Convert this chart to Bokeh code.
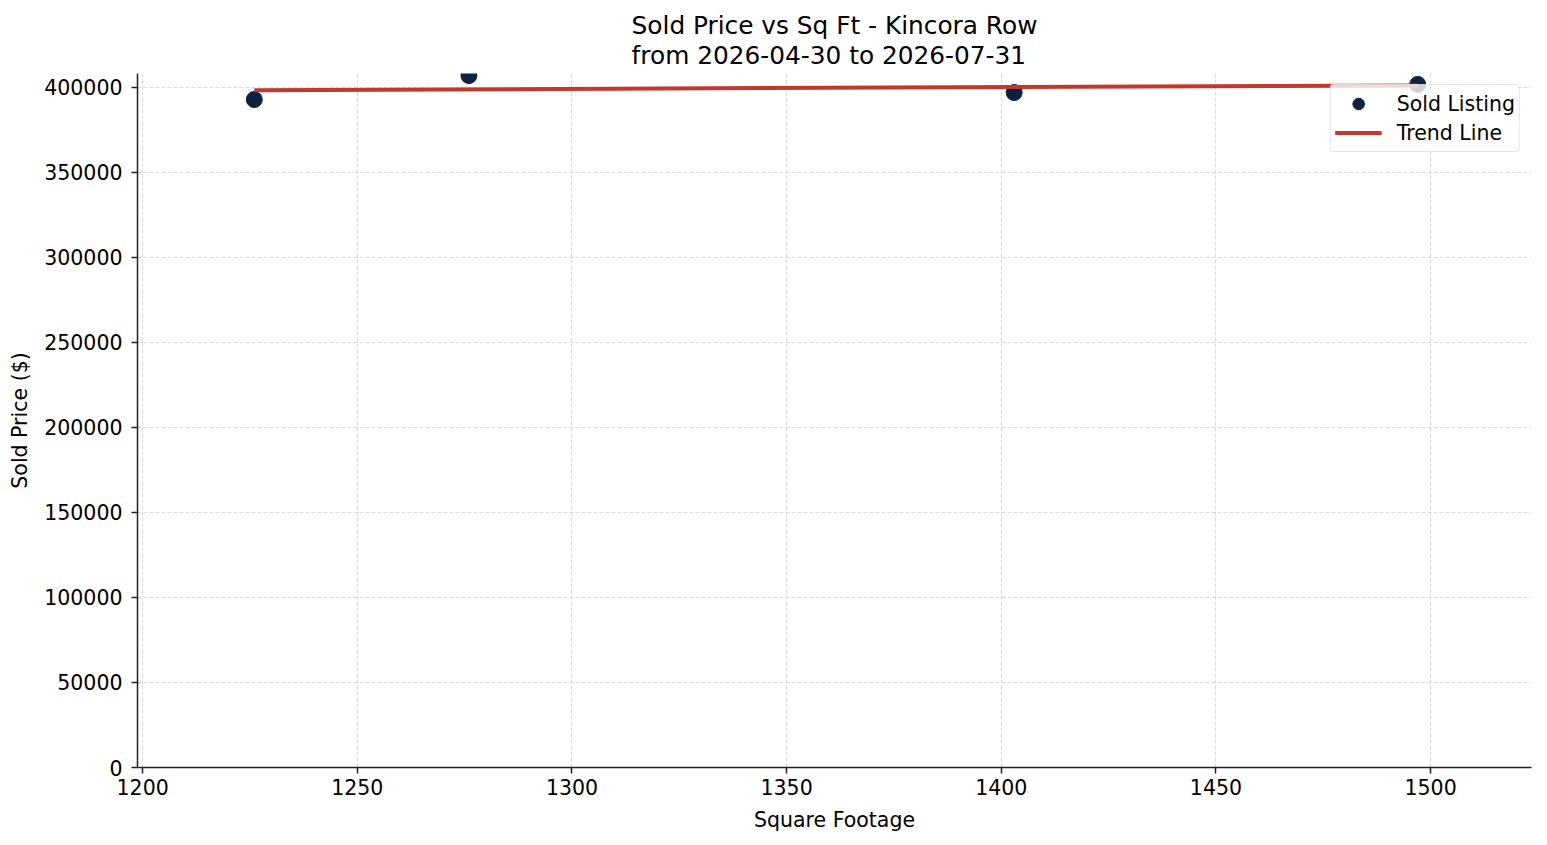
import numpy as np
from bokeh.plotting import figure
from bokeh.models import Title, FixedTicker, BasicTickFormatter, Range1d, Legend, LegendItem
from bokeh.embed import file_html
from bokeh.resources import INLINE

sqft = [1226, 1276, 1403, 1497]
price = [392900, 407000, 397000, 401800]
x_ticks = [1200, 1250, 1300, 1350, 1400, 1450, 1500]
y_ticks = [0, 50000, 100000, 150000, 200000, 250000, 300000, 350000, 400000]
title_lines = ["Sold Price vs Sq Ft - Kincora Row", "from 2026-04-30 to 2026-07-31"]

slope, intercept = np.polyfit(sqft, price, 1)
trend_x = [min(sqft), max(sqft)]
trend_y = [slope * v + intercept for v in trend_x]

FONT = "DejaVu Sans"

p = figure(width=1539, height=834, output_backend="svg", toolbar_location=None,
           x_range=Range1d(1198.8, 1523.5), y_range=Range1d(0, 408200),
           min_border_left=137, min_border_right=8, min_border_top=73, min_border_bottom=67)
p.title = None
p.add_layout(Title(text="\n".join(title_lines), align="center", text_font=FONT,
                   text_font_size="24.8px", text_font_style="normal", text_color="#000000",
                   text_line_height=1.06, standoff=6), "above")

p.outline_line_color = None
p.background_fill_color = "white"
p.border_fill_color = "white"

for ax in (p.xaxis[0], p.yaxis[0]):
    ax.major_label_text_font = FONT
    ax.major_label_text_font_size = "20.5px"
    ax.major_label_text_color = "#000000"
    ax.axis_label_text_font = FONT
    ax.axis_label_text_font_size = "20.5px"
    ax.axis_label_text_font_style = "normal"
    ax.axis_label_text_color = "#000000"
    ax.axis_line_color = "#222222"
    ax.axis_line_width = 1.5
    ax.major_tick_line_color = "#222222"
    ax.major_tick_line_width = 1.5
    ax.major_tick_out = 6
    ax.major_tick_in = 0
    ax.minor_tick_line_color = None

p.xaxis.axis_label = "Square Footage"
p.yaxis.axis_label = "Sold Price ($)"
p.xaxis.ticker = FixedTicker(ticks=x_ticks)
p.yaxis.ticker = FixedTicker(ticks=y_ticks)
p.yaxis.formatter = BasicTickFormatter(use_scientific=False)
p.xaxis.major_label_standoff = 5
p.yaxis.major_label_standoff = 9
p.xaxis.axis_label_standoff = 10
p.yaxis.axis_label_standoff = 9

p.xgrid.ticker = FixedTicker(ticks=x_ticks)
p.ygrid.ticker = FixedTicker(ticks=y_ticks)
for g in (p.xgrid[0], p.ygrid[0]):
    g.grid_line_color = "#d0d0d0"
    g.grid_line_dash = "4 2"
    g.grid_line_width = 0.8

pts = p.scatter(sqft, price, size=16, color="#0b2341", line_color="#0b2341")
ln = p.line(trend_x, trend_y, line_color="#c0392b", line_width=4)

legend = Legend(items=[LegendItem(label="Sold Listing", renderers=[pts]),
                       LegendItem(label="Trend Line", renderers=[ln])],
                location="top_right")
legend.label_text_font = FONT
legend.label_text_font_size = "20.5px"
legend.label_text_color = "#000000"
legend.border_line_color = "#cccccc"
legend.border_line_width = 1.2
legend.background_fill_alpha = 0.8
legend.glyph_width = 47
legend.glyph_height = 29
legend.label_standoff = 15
legend.label_height = 29
legend.spacing = 0
legend.padding = 4
legend.margin = 11
if "border_radius" in Legend.properties():
    legend.border_radius = 4
p.add_layout(legend)

open("out.html", "w").write(file_html(p, INLINE))
